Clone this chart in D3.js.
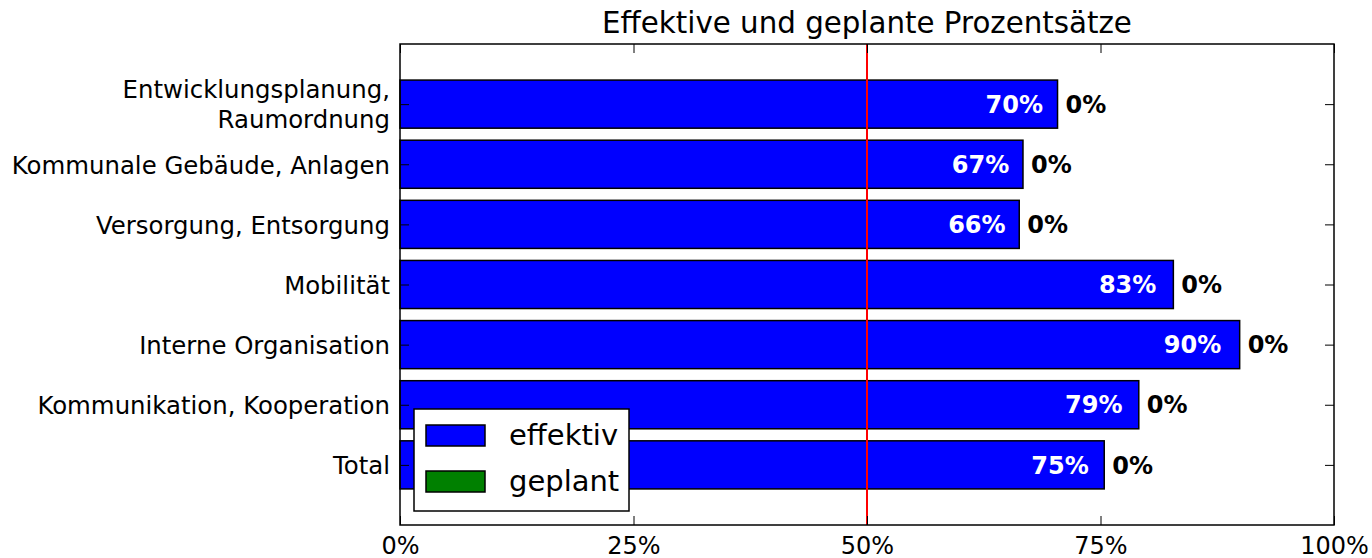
<!DOCTYPE html>
<meta charset="utf-8">
<script src="https://d3js.org/d3.v7.min.js"></script>
<style>
    body { margin: 0; background: #fff; }
    text { font-family: "DejaVu Sans", sans-serif; }
</style>
<div id="chart"></div>
<script>
    // data (top to bottom)
    var categories = ["Entwicklungsplanung,\nRaumordnung", "Kommunale Gebäude, Anlagen", "Versorgung, Entsorgung",
        "Mobilität", "Interne Organisation", "Kommunikation, Kooperation", "Total"];
    var effektiv = [70.4, 66.7, 66.3, 82.8, 89.9, 79.1, 75.4];
    var geplant = [0, 0, 0, 0, 0, 0, 0];
    var xTicks = [0, 25, 50, 75, 100];
    var target = 50;

    var W = 1372, H = 558;
    var plotL = 400, plotR = 1334, plotT = 44, plotB = 525;

    var svg = d3.select("#chart").append("svg")
        .attr("width", W)
        .attr("height", H);

    var x = d3.scaleLinear().domain([0, 100]).range([plotL, plotR]);
    var y = d3.scalePoint().domain(categories).range([plotT, plotB]).padding(1);
    var barH = y.step() * 0.8;

    // title
    svg.append("text")
        .attr("x", (plotL + plotR) / 2)
        .attr("y", 33)
        .attr("text-anchor", "middle")
        .style("font-size", "29.3px")
        .text("Effektive und geplante Prozentsätze");

    // bars effektiv
    svg.selectAll(".eff")
        .data(effektiv)
        .enter()
        .append("rect")
        .attr("class", "eff")
        .attr("x", x(0))
        .attr("y", function (d, i) { return y(categories[i]) - barH / 2; })
        .attr("width", function (d) { return x(d) - x(0); })
        .attr("height", barH)
        .attr("fill", "#0000ff")
        .attr("stroke", "#000")
        .attr("stroke-width", 1.5);

    // bars geplant (all zero)
    svg.selectAll(".plan")
        .data(geplant)
        .enter()
        .append("rect")
        .attr("class", "plan")
        .attr("x", x(0))
        .attr("y", function (d, i) { return y(categories[i]) - barH / 2; })
        .attr("width", function (d) { return x(d) - x(0); })
        .attr("height", barH)
        .attr("fill", "#008000");

    // value labels inside
    svg.selectAll(".effLabel")
        .data(effektiv)
        .enter()
        .append("text")
        .attr("x", function (d) { return x(d * 0.978); })
        .attr("y", function (d, i) { return y(categories[i]); })
        .attr("dy", "0.36em")
        .attr("text-anchor", "end")
        .style("font-size", "24px")
        .style("font-weight", "bold")
        .attr("fill", "#fff")
        .text(function (d) { return Math.round(d) + "%"; });

    // planned labels after bar
    svg.selectAll(".planLabel")
        .data(geplant)
        .enter()
        .append("text")
        .attr("x", function (d, i) { return x(Math.max(d, effektiv[i])) + 8; })
        .attr("y", function (d, i) { return y(categories[i]); })
        .attr("dy", "0.36em")
        .style("font-size", "24px")
        .style("font-weight", "bold")
        .attr("fill", "#000")
        .text(function (d) { return Math.round(d) + "%"; });

    // red 50% line
    svg.append("line")
        .attr("x1", x(target)).attr("x2", x(target))
        .attr("y1", plotT).attr("y2", plotB)
        .attr("stroke", "#ff0000")
        .attr("stroke-width", 2);

    // axes, ticks pointing inward
    var xb = svg.append("g")
        .attr("transform", "translate(0," + plotB + ")")
        .call(d3.axisBottom(x).tickValues(xTicks).tickSize(-9).tickPadding(12)
            .tickFormat(function (d) { return d + "%"; }));
    var xt = svg.append("g")
        .attr("transform", "translate(0," + plotT + ")")
        .call(d3.axisTop(x).tickValues(xTicks).tickSize(-9).tickFormat(""));
    var yl = svg.append("g")
        .attr("transform", "translate(" + plotL + ",0)")
        .call(d3.axisLeft(y).tickSize(-9).tickPadding(10));
    var yr = svg.append("g")
        .attr("transform", "translate(" + plotR + ",0)")
        .call(d3.axisRight(y).tickSize(-9).tickFormat(""));

    [xb, xt, yl, yr].forEach(function (g) {
        g.select(".domain").remove();
        g.selectAll(".tick line").attr("stroke", "#000").attr("stroke-width", 1);
        g.selectAll("text").style("font-size", "24px").attr("fill", "#000")
            .style("font-family", "DejaVu Sans, sans-serif");
    });
    yl.selectAll("text").style("font-size", "24.4px");

    // multi-line y labels
    yl.selectAll(".tick text").each(function (d) {
        var lines = d.split("\n");
        var t = d3.select(this).text(null).attr("dy", null);
        lines.forEach(function (l, k) {
            t.append("tspan")
                .attr("x", -10)
                .attr("dy", k === 0 ? (0.36 - (lines.length - 1) * 0.62) + "em" : "1.22em")
                .text(l);
        });
    });

    // frame
    svg.append("rect")
        .attr("x", plotL).attr("y", plotT)
        .attr("width", plotR - plotL).attr("height", plotB - plotT)
        .attr("fill", "none")
        .attr("stroke", "#000")
        .attr("stroke-width", 1.5);

    // legend
    var lg = svg.append("g");
    lg.append("rect")
        .attr("x", 414).attr("y", 409)
        .attr("width", 215).attr("height", 102)
        .attr("fill", "#fff")
        .attr("stroke", "#000")
        .attr("stroke-width", 1.5);
    var legendItems = [{ name: "effektiv", color: "#0000ff" }, { name: "geplant", color: "#008000" }];
    legendItems.forEach(function (it, i) {
        lg.append("rect")
            .attr("x", 426).attr("y", 425 + i * 46)
            .attr("width", 59).attr("height", 21)
            .attr("fill", it.color)
            .attr("stroke", "#000")
            .attr("stroke-width", 1.5);
        lg.append("text")
            .attr("x", 509).attr("y", 445 + i * 46)
            .style("font-size", "29px")
            .text(it.name);
    });
</script>
